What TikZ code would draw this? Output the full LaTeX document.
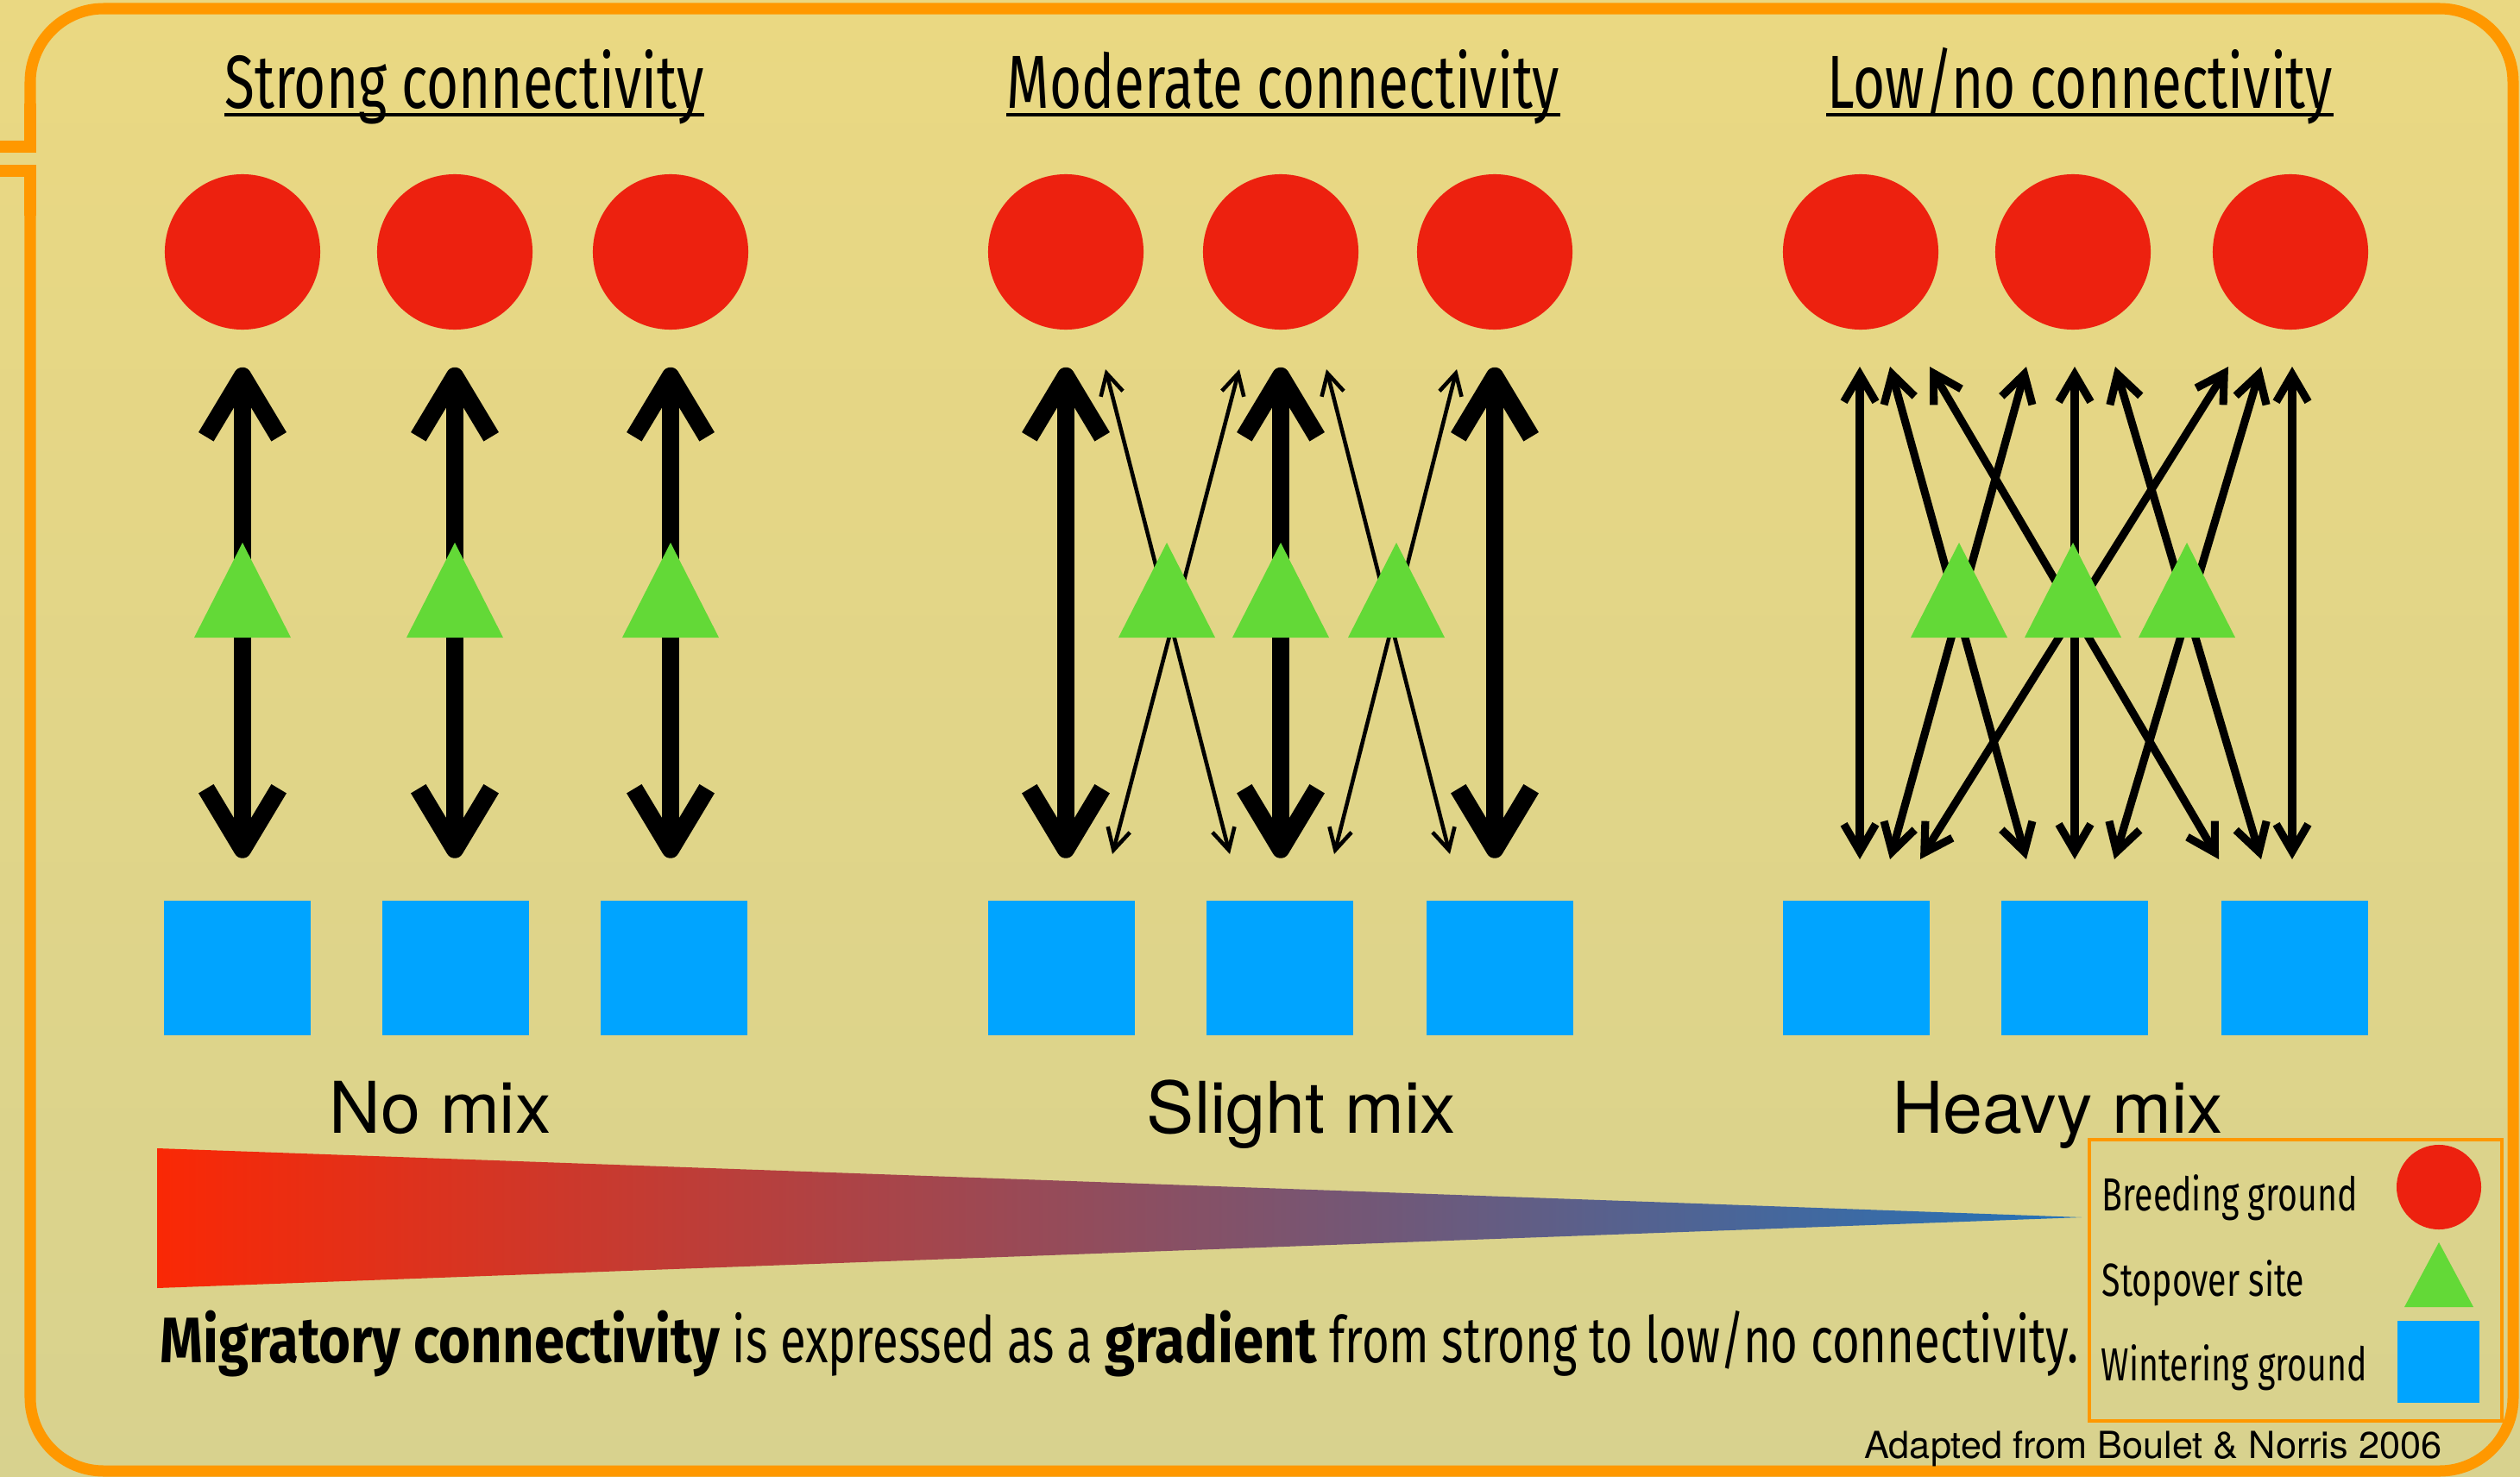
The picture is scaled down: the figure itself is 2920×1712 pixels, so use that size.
\documentclass[tikz,border=0pt]{standalone}
\usepackage{fontspec}
\setmainfont{Fira Sans}[UprightFeatures={FakeStretch=0.73}, BoldFeatures={FakeStretch=0.85}]
\newfontfamily\helvfont{TeX Gyre Heros}
\usetikzlibrary{arrows.meta}

\definecolor{breedred}{RGB}{237,33,15}
\definecolor{stopgreen}{RGB}{99,217,55}
\definecolor{winterblue}{RGB}{0,164,255}
\definecolor{rimorange}{RGB}{255,152,0}
\definecolor{bgtop}{RGB}{234,216,130}
\definecolor{bgbottom}{RGB}{216,210,142}
\definecolor{wedgered}{RGB}{250,40,5}
\definecolor{wedgeblue}{RGB}{35,115,185}

\tikzset{
  breed/.style={circle, fill=breedred, inner sep=0pt, minimum size=1.8cm},
  winter/.style={rectangle, fill=winterblue, inner sep=0pt, minimum width=1.69cm, minimum height=1.55cm},
  rim/.style={draw=rimorange, line width=3.7pt},
  heading/.style={inner sep=0pt, anchor=base, font=\fontsize{24.8pt}{30pt}\selectfont},
  uline/.style={line width=1.1pt},
  mixlabel/.style={inner sep=0pt, anchor=base, font=\helvfont\fontsize{23.5pt}{28pt}\selectfont},
  keytext/.style={inner sep=0pt, anchor=base west, font=\fontsize{15.3pt}{18pt}\selectfont},
  sentence/.style={inner sep=0pt, anchor=base west, font=\fontsize{21.2pt}{25pt}\selectfont},
  credit/.style={inner sep=0pt, anchor=base east, font=\helvfont\fontsize{12.3pt}{14pt}\selectfont},
  strongarr/.style={line width=5.8pt, >={Straight Barb[length=20pt,width=24pt,line join=round]}, <->},
  slightarr/.style={line width=1.3pt, >={Straight Barb[length=7pt,width=7.5pt]}, <->},
  heavyarr/.style={line width=2.6pt, >={Straight Barb[length=9pt,width=10.5pt]}, <->}
}

\begin{document}
\begin{tikzpicture}[x=0.01cm, y=-0.01cm]
\useasboundingbox (0,0) rectangle (2920,1712);
\shade[top color=bgtop, bottom color=bgbottom] (0,0) rectangle (2920,1712);
% frame
\draw[rim, rounded corners=0.85cm] (35,120) -- (35,10) -- (2912,10) -- (2912,1705) -- (35,1705) -- (35,250);
\draw[rim] (-20,170) -- (35,170) -- (35,120);
\draw[rim] (-20,198) -- (35,198) -- (35,250);

% headings
\foreach \n/\x/\t in {strong/538/{Strong connectivity}, moderate/1487/{Moderate connectivity}, low/2410/{Low/no connectivity}}{
  \node[heading] (\n) at (\x,125) {\t};
  \draw[uline] ([yshift=-0.08cm]\n.base west) -- ([yshift=-0.08cm]\n.base east);
}

% breeding and wintering grounds
\foreach \i/\x in {1/281, 2/527, 3/777, 4/1235, 5/1484, 6/1732, 7/2156, 8/2402, 9/2654}
  \node[breed] (b\i) at (\x,292) {};
\foreach \i/\x in {1/275, 2/528, 3/781, 4/1230, 5/1483, 6/1738, 7/2151, 8/2404, 9/2659}
  \node[winter] (w\i) at (\x,1122) {};

% one-to-one routes
\foreach \i in {1,...,6}
  \draw[strongarr, shorten <=0.43cm, shorten >=0.49cm] (b\i) -- (b\i |- w\i.north);

% slight mixing
\foreach \i/\a/\b in {1/1281/1425, 2/1436/1289, 3/1537/1680, 4/1688/1546}{
  \coordinate (mu\i) at (\a,428);
  \coordinate (md\i) at (\b,990);
  \draw[slightarr] (mu\i) -- (md\i);
}

% heavy mixing
\foreach \i/\a/\b in {1/2155/2155, 2/2190/2348, 3/2348/2190, 4/2236/2571, 5/2582/2225, 6/2404/2404, 7/2451/2620, 8/2620/2450, 9/2656/2656}{
  \coordinate (lu\i) at (\a,425);
  \coordinate (ld\i) at (\b,996);
  \draw[heavyarr] (lu\i) -- (ld\i);
}

% stopover sites
\foreach \x in {281,527,777,1352,1484,1618,2270,2402,2534}
  \fill[stopgreen] (\x-56,739) -- (\x+56,739) -- (\x,629) -- cycle;

\node[mixlabel] (nomix) at (510,1313) {No mix};
\node[mixlabel] (slightmix) at (1508,1313) {Slight mix};
\node[mixlabel] (heavymix) at (2384,1313) {Heavy mix};

% gradient wedge
\shade[left color=wedgered, right color=wedgeblue] (182,1331) -- (2412,1411) -- (182,1493) -- cycle;

\node[sentence] (caption) at (185,1579) {\textbf{Migratory connectivity} is expressed as a \textbf{gradient} from strong to low/no connectivity.};

% legend
\draw[draw=rimorange, line width=1.4pt] (2421,1321) rectangle (2899,1647);
\node[keytext] (kbtext) at (2435,1403) {Breeding ground};
\node[keytext] (kstext) at (2435,1502) {Stopover site};
\node[keytext] (kwtext) at (2434,1600) {Wintering ground};
\node[breed, minimum size=0.98cm] (kb) at (2826,1376) {};
\fill[stopgreen] (2786,1515) -- (2866,1515) -- (2826,1440) -- cycle;
\node[winter, minimum width=0.95cm, minimum height=0.95cm] (kw) at (2825.5,1578.5) {};

\node[credit] (source) at (2830,1690) {Adapted from Boulet \& Norris 2006};
\end{tikzpicture}
\end{document}
